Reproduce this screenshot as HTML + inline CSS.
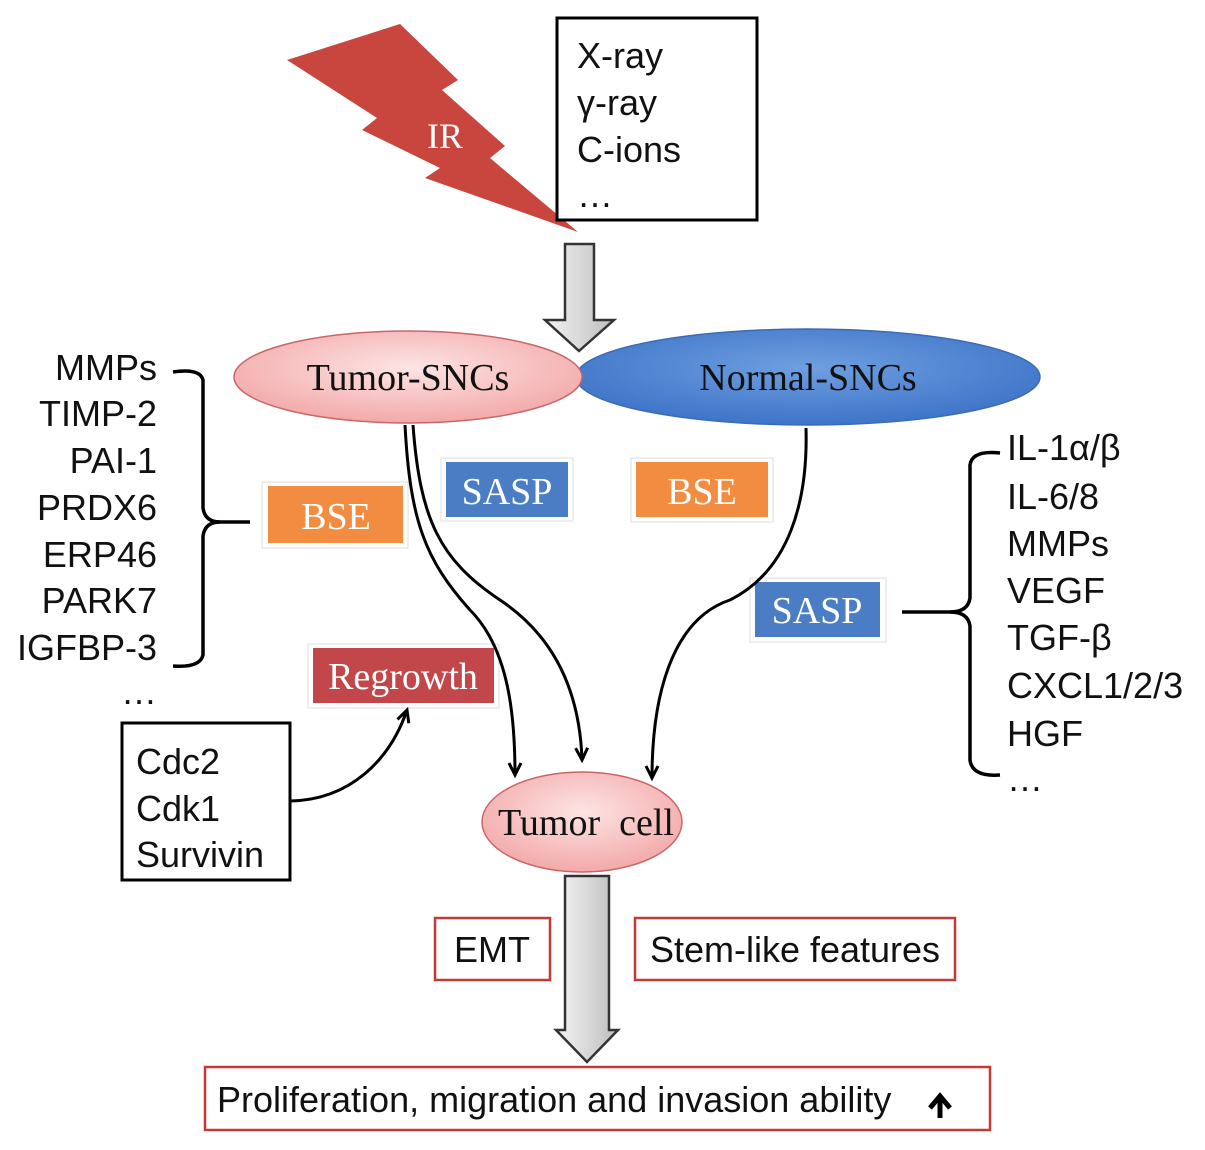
<!DOCTYPE html>
<html><head><meta charset="utf-8"><style>
html,body{margin:0;padding:0;background:#fff;}
svg{display:block;}
.s{font-family:"Liberation Sans",sans-serif;font-size:36px;fill:#111;}
.r{font-family:"Liberation Serif",serif;}
</style></head><body>
<svg width="1205" height="1150" viewBox="0 0 1205 1150" xmlns="http://www.w3.org/2000/svg">
<defs>
<linearGradient id="g" x1="0" x2="1" y1="0" y2="0"><stop offset="0" stop-color="#f4f4f4"/><stop offset="1" stop-color="#bdbdbd"/></linearGradient>
<radialGradient id="pk" cx="0.5" cy="0.4" r="0.6"><stop offset="0" stop-color="#fde4e4"/><stop offset="1" stop-color="#f3a9a9"/></radialGradient>
<radialGradient id="bl" cx="0.5" cy="0.4" r="0.6"><stop offset="0" stop-color="#6f9fe0"/><stop offset="1" stop-color="#3e74c8"/></radialGradient>
<marker id="ah" markerWidth="18" markerHeight="18" refX="14" refY="8" orient="auto" markerUnits="userSpaceOnUse"><path d="M2,2 L14,8 L2,14" fill="none" stroke="#000" stroke-width="3"/></marker>
</defs>
<polygon points="287,60 400,24 458,80 442,90 505,146 490,158 578,232 425,178 440,168 362,130 377,118" fill="#c9463f"/>
<text x="445" y="148" class="r" font-size="36" fill="#fff" text-anchor="middle">IR</text>
<rect x="557" y="18" width="200" height="202" fill="#fff" stroke="#000" stroke-width="3"/>
<text class="s" x="577" y="68">X-ray</text>
<text class="s" x="577" y="115">γ-ray</text>
<text class="s" x="577" y="162">C-ions</text>
<text class="s" x="577" y="207">…</text>
<polygon points="565,244 594,244 594,320 614,320 579,351 545,320 565,320" fill="url(#g)" stroke="#333" stroke-width="2.5"/>
<ellipse cx="808" cy="377" rx="232" ry="48" fill="url(#bl)" stroke="#3a6bb5" stroke-width="1.5"/>
<ellipse cx="408" cy="377" rx="174" ry="46" fill="url(#pk)" stroke="#c9666a" stroke-width="1.5"/>
<text x="408" y="390" class="r" font-size="38" text-anchor="middle" fill="#111">Tumor-SNCs</text>
<text x="808" y="390" class="r" font-size="38" text-anchor="middle" fill="#111">Normal-SNCs</text>
<g class="s" text-anchor="end">
<text x="157" y="380">MMPs</text><text x="157" y="426">TIMP-2</text><text x="157" y="473">PAI-1</text><text x="157" y="520">PRDX6</text><text x="157" y="567">ERP46</text><text x="157" y="613">PARK7</text><text x="157" y="660">IGFBP-3</text><text x="157" y="704">…</text>
</g>
<path d="M173,372 Q200,368 203,380 L203,508 Q205,522 220,522 M220,522 Q205,522 203,536 L203,655 Q200,668 173,666" fill="none" stroke="#000" stroke-width="3.5"/>
<line x1="215" y1="522" x2="250" y2="522" stroke="#000" stroke-width="3.5"/>
<g class="s">
<text x="1007" y="460">IL-1α/β</text><text x="1007" y="509">IL-6/8</text><text x="1007" y="556">MMPs</text><text x="1007" y="603">VEGF</text><text x="1007" y="650">TGF-β</text><text x="1007" y="698">CXCL1/2/3</text><text x="1007" y="746">HGF</text><text x="1007" y="791">…</text>
</g>
<path d="M1000,453 Q972,450 970,465 L970,598 Q968,612 950,612 M950,612 Q968,612 970,626 L970,760 Q972,777 1000,775" fill="none" stroke="#000" stroke-width="3.5"/>
<line x1="902" y1="612" x2="952" y2="612" stroke="#000" stroke-width="3.5"/>
<g font-family="Liberation Serif,serif" font-size="38" fill="#fff" text-anchor="middle">
<rect x="262" y="482" width="146" height="66" fill="#fff" stroke="#ddd"/><rect x="268" y="486" width="135" height="57" fill="#f28c40"/><text x="336" y="529">BSE</text>
<rect x="441" y="458" width="132" height="63" fill="#fff" stroke="#ddd"/><rect x="446" y="462" width="122" height="55" fill="#4a7dc3"/><text x="507" y="504">SASP</text>
<rect x="631" y="458" width="142" height="64" fill="#fff" stroke="#ddd"/><rect x="636" y="462" width="132" height="55" fill="#f28c40"/><text x="702" y="504">BSE</text>
<rect x="750" y="578" width="136" height="64" fill="#fff" stroke="#ddd"/><rect x="755" y="582" width="125" height="55" fill="#4a7dc3"/><text x="817" y="623">SASP</text>
<rect x="308" y="644" width="191" height="64" fill="#fff" stroke="#ddd"/><rect x="313" y="648" width="181" height="55" fill="#c2474a"/><text x="403" y="689">Regrowth</text>
</g>
<g fill="none" stroke="#000" stroke-width="3">
<path d="M405,425 C410,520 425,560 470,610 C510,650 515,720 515,775" marker-end="url(#ah)"/>
<path d="M413,425 C420,520 440,560 500,600 C560,640 580,700 582,760" marker-end="url(#ah)"/>
<path d="M806,428 C808,500 790,570 730,600 C670,620 652,700 652,778" marker-end="url(#ah)"/>
<path d="M290,801 C350,800 390,760 407,710" marker-end="url(#ah)"/>
</g>
<rect x="122" y="723" width="168" height="157" fill="#fff" stroke="#000" stroke-width="3"/>
<text class="s" x="136" y="774">Cdc2</text><text class="s" x="136" y="821">Cdk1</text><text class="s" x="136" y="867">Survivin</text>
<ellipse cx="582" cy="822" rx="100" ry="50" fill="url(#pk)" stroke="#c9666a" stroke-width="1.5"/>
<text x="586" y="835" class="r" font-size="38" text-anchor="middle" fill="#111">Tumor&#160; cell</text>
<polygon points="565,876 609,876 609,1030 618,1030 587,1062 556,1030 565,1030" fill="url(#g)" stroke="#333" stroke-width="2.5"/>
<rect x="435" y="918" width="115" height="62" fill="#fff" stroke="#c43a36" stroke-width="2.5"/>
<text class="s" x="492" y="962" text-anchor="middle">EMT</text>
<rect x="635" y="918" width="320" height="62" fill="#fff" stroke="#c43a36" stroke-width="2.5"/>
<text class="s" x="795" y="962" text-anchor="middle">Stem-like features</text>
<rect x="205" y="1067" width="785" height="63" fill="#fff" stroke="#c43a36" stroke-width="2.5"/>
<text class="s" x="217" y="1112">Proliferation, migration and invasion ability</text>
<path d="M940,1118 L940,1100 M930,1108 L940,1096 L950,1108" fill="none" stroke="#000" stroke-width="5"/>
</svg>
</body></html>
